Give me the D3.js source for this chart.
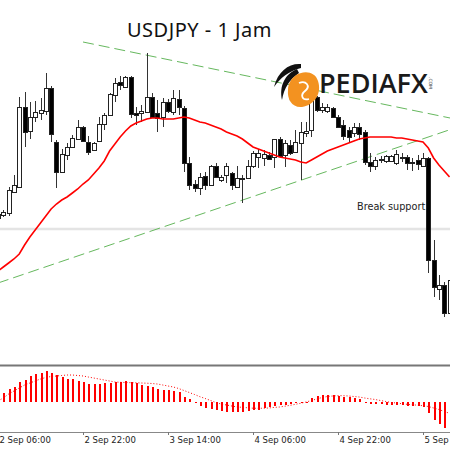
<!DOCTYPE html>
<html>
<head>
<meta charset="utf-8">
<script src="https://cdn.jsdelivr.net/npm/d3@7"></script>
<style>
body { margin: 0; background: #fff; }
svg { display: block; }
</style>
</head>
<body>
<svg width="450" height="450"></svg>
<script>
// hourly candles, first one at 2 Sep 06:00
var opens = [145.82,145.85,145.87,146.08,146.13,146.93,146.69,146.83,146.87,146.89,
	147.12,146.58,146.28,146.45,146.53,146.61,146.73,146.58,146.50,146.59,
	146.76,146.85,147.05,147.18,147.13,147.23,146.87,146.87,146.88,147.03,
	146.87,146.83,146.98,146.88,147.01,146.92,146.37,146.16,146.12,146.24,
	146.15,146.34,146.20,146.25,146.27,146.13,146.21,146.22,146.34,146.43,
	146.42,146.45,146.43,146.61,146.45,146.55,146.48,146.57,146.67,146.70,
	147.03,146.90,146.89,146.92,146.83,146.75,146.70,146.67,146.73,146.68,
	146.38,146.34,146.40,146.39,146.39,146.37,146.42,146.43,146.38,146.40,
	146.34,146.42,145.40,145.11,145.15,144.87];
var highs = [145.88,145.90,146.13,146.25,147.03,147.08,146.98,146.99,147.02,147.27,
	147.14,146.60,146.51,146.57,146.65,146.80,146.74,146.64,146.58,146.83,
	146.87,147.07,147.22,147.24,147.24,147.24,146.93,146.95,147.47,147.07,
	147.00,147.02,147.01,147.10,147.10,146.94,146.43,146.20,146.27,146.28,
	146.35,146.37,146.25,146.37,146.28,146.34,146.25,146.40,146.49,146.51,
	146.50,146.48,146.61,146.63,146.60,146.60,146.70,146.78,146.78,147.07,
	147.04,146.97,146.96,146.93,146.85,146.80,146.73,146.77,146.77,146.70,
	146.47,146.43,146.44,146.45,146.45,146.50,146.47,146.45,146.42,146.45,
	146.47,146.43,145.60,145.25,145.18,145.22];
var lows = [145.80,145.83,145.84,146.07,146.12,146.53,146.61,146.78,146.80,146.85,
	146.58,146.12,146.27,146.40,146.52,146.60,146.58,146.45,146.49,146.58,
	146.70,146.84,146.98,147.10,147.12,146.82,146.75,146.78,146.87,146.82,
	146.68,146.73,146.87,146.85,146.85,146.28,146.10,146.08,146.05,146.10,
	146.14,146.22,146.18,146.17,146.10,146.12,145.97,146.21,146.32,146.32,
	146.34,146.40,146.32,146.43,146.33,146.45,146.47,146.20,146.63,146.63,
	146.88,146.87,146.87,146.82,146.72,146.60,146.57,146.63,146.60,146.35,
	146.28,146.30,146.37,146.37,146.38,146.35,146.38,146.30,146.29,146.30,
	146.33,145.27,145.03,145.00,144.83,144.85];
var closes = [145.86,145.88,146.10,146.15,146.93,146.68,146.83,146.88,146.90,147.12,
	146.66,146.28,146.46,146.53,146.62,146.73,146.59,146.48,146.57,146.76,
	146.85,147.06,147.17,147.15,147.23,146.86,146.85,146.89,147.03,146.83,
	146.82,146.98,146.89,147.02,146.93,146.37,146.15,146.12,146.23,146.15,
	146.34,146.23,146.23,146.34,146.15,146.22,146.22,146.34,146.47,146.47,
	146.46,146.41,146.61,146.44,146.57,146.47,146.58,146.68,146.69,147.03,
	146.90,146.93,146.93,146.83,146.73,146.64,146.63,146.73,146.66,146.38,
	146.34,146.40,146.41,146.44,146.44,146.46,146.43,146.37,146.37,146.36,
	146.42,145.40,145.13,145.15,144.87,145.20];
var maValues = [145.29,145.33,145.37,145.41,145.46,145.55,145.63,145.70,145.77,145.84,
	145.91,145.96,146.00,146.03,146.07,146.11,146.16,146.20,146.26,146.32,
	146.39,146.49,146.56,146.63,146.69,146.74,146.77,146.79,146.81,146.82,
	146.82,146.81,146.81,146.81,146.82,146.83,146.82,146.80,146.78,146.77,
	146.75,146.73,146.71,146.68,146.66,146.64,146.61,146.57,146.53,146.51,
	146.49,146.47,146.45,146.43,146.42,146.41,146.40,146.38,146.37,146.40,
	146.43,146.46,146.49,146.51,146.53,146.55,146.57,146.59,146.61,146.62,
	146.63,146.63,146.63,146.63,146.63,146.62,146.62,146.61,146.60,146.59,
	146.58,146.52,146.42,146.35,146.29,146.23];
var macdHist = [0.08,0.09,0.13,0.15,0.20,0.22,0.26,0.28,0.29,0.31,
	0.29,0.27,0.25,0.23,0.23,0.21,0.20,0.18,0.18,0.18,
	0.19,0.19,0.20,0.20,0.21,0.20,0.19,0.17,0.16,0.15,
	0.13,0.12,0.12,0.11,0.10,0.05,0.03,-0.01,-0.04,-0.06,
	-0.07,-0.08,-0.09,-0.10,-0.10,-0.10,-0.10,-0.09,-0.08,-0.08,
	-0.06,-0.05,-0.04,-0.03,-0.03,-0.02,-0.01,-0.01,-0.005,0.04,
	0.06,0.07,0.07,0.07,0.06,0.05,0.05,0.04,0.03,0.003,
	-0.02,-0.02,-0.02,-0.03,-0.03,-0.03,-0.03,-0.04,-0.04,-0.04,
	-0.05,-0.11,-0.18,-0.22,-0.26,-0.28];
var macdSignal = [0.01,0.04,0.08,0.11,0.14,0.17,0.19,0.21,0.23,0.245,
	0.255,0.26,0.265,0.27,0.27,0.265,0.26,0.25,0.24,0.23,
	0.22,0.21,0.20,0.197,0.195,0.193,0.192,0.19,0.188,0.185,
	0.18,0.17,0.16,0.15,0.135,0.115,0.095,0.075,0.053,0.035,
	0.015,-0.005,-0.02,-0.03,-0.04,-0.05,-0.053,-0.058,-0.062,-0.063,
	-0.062,-0.06,-0.054,-0.05,-0.042,-0.033,-0.023,-0.012,0,0.015,
	0.03,0.045,0.055,0.06,0.063,0.063,0.06,0.055,0.05,0.04,
	0.032,0.025,0.015,0.005,-0.005,-0.01,-0.017,-0.023,-0.028,-0.032,
	-0.037,-0.045,-0.06,-0.075,-0.095,-0.113];

var tickTimes = ["2024-09-02T06:00","2024-09-02T22:00","2024-09-03T14:00",
	"2024-09-04T06:00","2024-09-04T22:00","2024-09-05T14:00"];
var supportLevel = 145.71;
var upperTrend = [{t: "2024-09-02T22:00", p: 147.58}, {t: "2024-09-05T20:00", p: 146.81}];
var lowerTrend = [{t: "2024-09-02T06:00", p: 145.17}, {t: "2024-09-05T20:00", p: 146.72}];

var parseT = d3.timeParse("%Y-%m-%dT%H:%M");
var t0 = parseT(tickTimes[0]);
var candles = opens.map(function(o, i) {
	return {t: d3.timeHour.offset(t0, i), o: o, h: highs[i], l: lows[i], c: closes[i],
		ma: maValues[i], hist: macdHist[i], sig: macdSignal[i]};
});

var svg = d3.select("svg");
var W = 450;

var x = d3.scaleTime()
	.domain([t0, parseT(tickTimes[tickTimes.length - 1])])
	.range([-2, 423]);
var y = d3.scaleLinear().domain([144.36, 148.00]).range([364, 0]);
var ym = d3.scaleLinear().domain([-0.30, 0.35]).range([432, 367]);

function cx(d) { return Math.round(x(d.t)); }

svg.append("defs").append("clipPath").attr("id", "mainClip")
	.append("rect").attr("x", 0).attr("y", 0).attr("width", W).attr("height", 364);

var main = svg.append("g").attr("clip-path", "url(#mainClip)");

// horizontal level
main.append("line")
	.attr("x1", 0).attr("x2", W)
	.attr("y1", y(supportLevel)).attr("y2", y(supportLevel))
	.attr("stroke", "#e4e4e4").attr("stroke-width", 2.5);

// trend lines
[upperTrend, lowerTrend].forEach(function(tl) {
	main.append("line")
		.attr("x1", x(parseT(tl[0].t))).attr("y1", y(tl[0].p))
		.attr("x2", x(parseT(tl[1].t))).attr("y2", y(tl[1].p))
		.attr("stroke", "#66b85e").attr("stroke-width", 1)
		.attr("stroke-dasharray", "11,5");
});

// candles
var cg = main.append("g").attr("shape-rendering", "crispEdges");
cg.selectAll(".wick").data(candles).enter().append("line")
	.attr("class", "wick")
	.attr("x1", function(d) { return cx(d) + 0.5; })
	.attr("x2", function(d) { return cx(d) + 0.5; })
	.attr("y1", function(d) { return y(d.h); })
	.attr("y2", function(d) { return y(d.l); })
	.attr("stroke", "#333");
cg.selectAll(".body").data(candles).enter().append("rect")
	.attr("class", "body")
	.attr("x", function(d) { return cx(d) - 1.5; })
	.attr("width", 4)
	.attr("y", function(d) { return y(Math.max(d.o, d.c)); })
	.attr("height", function(d) { return Math.max(1, Math.abs(y(d.o) - y(d.c))); })
	.attr("fill", function(d) { return d.c >= d.o ? "#fff" : "#000"; })
	.attr("stroke", "#222");

// moving average
main.append("path")
	.datum(candles)
	.attr("fill", "none")
	.attr("stroke", "#ff0000")
	.attr("stroke-width", 1.6)
	.attr("d", d3.line().x(function(d) { return x(d.t); }).y(function(d) { return y(d.ma); }));

// title
svg.append("text")
	.attr("x", 127).attr("y", 37)
	.attr("font-family", "Noto Sans, sans-serif")
	.attr("font-size", 20)
	.attr("letter-spacing", 0.5)
	.attr("fill", "#111")
	.text("USDJPY - 1 Jam");

svg.append("text")
	.attr("x", 357).attr("y", 210)
	.attr("font-family", "DejaVu Sans, sans-serif")
	.attr("font-size", 9.7)
	.attr("fill", "#222")
	.text("Break support");

// logo
var logo = svg.append("g");
logo.append("path").attr("fill", "#111")
	.attr("d", "M301,64 C289,63 278,71 274,87 C280,78 289,71 301,68 Z");
logo.append("path").attr("fill", "#111")
	.attr("d", "M297,69 C285,74 279,86 282,100 C284,88 290,79 299,73 Z");
logo.append("path").attr("fill", "#111")
	.attr("d", "M299,74 C291,80 288,90 290,101 C292,91 295,84 302,78 Z");
logo.append("path").attr("fill", "#f39220")
	.attr("d", "M295,76 C303,70 315,71 318,81 C322,93 315,105 302,107 C292,108 287,99 288,90 C288,84 291,79 295,76 Z");
logo.append("path").attr("fill", "none").attr("stroke", "#fff").attr("stroke-width", 1.8)
	.attr("d", "M299,83 C306,80 311,86 305,91 C300,95 302,101 309,99");
logo.append("text")
	.attr("x", 319).attr("y", 93)
	.attr("font-family", "Open Sans, sans-serif")
	.attr("font-weight", 600)
	.attr("font-size", 27)
	.attr("fill", "#1a1a1a")
	.text("PEDIAFX");
logo.append("text")
	.attr("transform", "translate(429,77) rotate(90)")
	.attr("font-family", "DejaVu Sans, sans-serif")
	.attr("font-size", 4.5)
	.attr("fill", "#333")
	.text(".COM");

// separator between main and indicator window
svg.append("rect").attr("x", 0).attr("y", 364.5).attr("width", W).attr("height", 2)
	.attr("fill", "#777");

// MACD histogram + signal
var mg = svg.append("g");
mg.append("g").attr("shape-rendering", "crispEdges")
	.selectAll("rect").data(candles).enter().append("rect")
	.attr("x", function(d) { return cx(d) - 0.5; })
	.attr("width", 2)
	.attr("y", function(d) { return Math.min(ym(0), ym(d.hist)); })
	.attr("height", function(d) { return Math.max(1, Math.abs(ym(d.hist) - ym(0))); })
	.attr("fill", "#ff0000");
mg.append("path")
	.datum(candles)
	.attr("fill", "none")
	.attr("stroke", "#ff0000")
	.attr("stroke-width", 1)
	.attr("stroke-dasharray", "1,2")
	.attr("d", d3.line().x(function(d) { return x(d.t); }).y(function(d) { return ym(d.sig); }));

// time axis
var axis = svg.append("g")
	.attr("transform", "translate(0,432)")
	.call(d3.axisBottom(x)
		.tickValues(tickTimes.map(parseT))
		.tickFormat(d3.timeFormat("%-d %b %H:%M"))
		.tickSize(3)
		.tickSizeOuter(0));
axis.select(".domain").attr("stroke", "#888").attr("d", "M0,0.5H" + W);
axis.selectAll(".tick line").attr("stroke", "#777");
axis.selectAll(".tick text")
	.attr("text-anchor", "start")
	.attr("x", 1)
	.attr("y", 5)
	.attr("font-family", "DejaVu Sans, sans-serif")
	.attr("font-size", 8.5)
	.attr("fill", "#222");
</script>
</body>
</html>
